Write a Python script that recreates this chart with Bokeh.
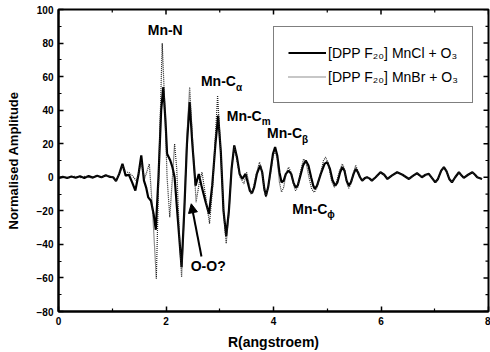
import math
from bokeh.plotting import figure
from bokeh.models import (FixedTicker, Label, Arrow, NormalHead, Range1d, Legend, LegendItem)
from bokeh.embed import file_html
from bokeh.resources import INLINE

# ---- data ----
r_mncl = [0.00, 0.08, 0.16, 0.24, 0.32, 0.40, 0.48, 0.56, 0.64, 0.72, 0.80, 0.88, 0.96, 1.02,
          1.07, 1.13, 1.19, 1.25, 1.31, 1.37, 1.43, 1.49, 1.54, 1.59, 1.63, 1.67, 1.72, 1.77,
          1.81, 1.86, 1.91, 1.95, 1.99, 2.02, 2.08, 2.12, 2.16, 2.22, 2.29, 2.34, 2.39, 2.44,
          2.49, 2.55, 2.61, 2.66, 2.74, 2.80, 2.86, 2.92, 2.97, 3.02, 3.07, 3.12, 3.17, 3.22,
          3.27, 3.32, 3.37, 3.42, 3.45, 3.48, 3.52, 3.56, 3.60, 3.64, 3.69, 3.75, 3.79, 3.83,
          3.86, 3.90, 3.95, 3.99, 4.03, 4.07, 4.11, 4.15, 4.19, 4.23, 4.28, 4.33, 4.37, 4.41,
          4.45, 4.50, 4.55, 4.60, 4.65, 4.70, 4.74, 4.77, 4.81, 4.88, 4.95, 5.00, 5.05, 5.10,
          5.15, 5.19, 5.24, 5.28, 5.32, 5.36, 5.40, 5.44, 5.49, 5.53, 5.57, 5.61, 5.65, 5.70,
          5.74, 5.79, 5.83, 5.90, 5.99, 6.06, 6.12, 6.20, 6.30, 6.40, 6.52, 6.60, 6.67, 6.72,
          6.76, 6.83, 6.89, 6.95, 7.01, 7.06, 7.12, 7.17, 7.22, 7.27, 7.32, 7.38, 7.45, 7.50,
          7.54, 7.62, 7.70, 7.75, 7.79, 7.88]
amp_mncl = [-0.5, 0.3, -0.4, 0.5, -0.3, 0.6, -0.4, 0.7, -0.2, 0.9, 0.0, 1.2, 0.2, 0.0,
            -2.3, 2.0, 8.0, 1.0, 1.5, -3.0, -7.9, 2.0, 13.0, -2.0, -6.0, -12.0, -14.0, -22.0,
            -31.3, 0.0, 40.0, 53.7, 33.8, 14.0, 10.0, 6.0, 0.0, -25.0, -53.6, -20.0, 20.0, 44.8,
            20.0, -5.0, 2.0, -5.0, -15.0, -21.8, -5.0, 20.0, 36.8, 15.0, -20.0, -35.0, -20.0, 5.0,
            19.0, 12.0, 2.0, -1.0, 0.5, 2.0, -3.0, -8.0, -9.5, -6.0, 2.0, 7.0, 3.0, -7.0,
            -11.0, -6.0, 5.0, 14.0, 18.0, 13.0, 3.0, -3.0, -2.0, 2.0, 4.0, 2.0, -3.0, -6.0,
            -5.0, 1.0, 7.0, 10.0, 7.0, 0.0, -5.0, -7.0, -5.0, 2.0, 8.0, 9.0, 5.0, -2.0,
            -5.0, -3.0, 3.0, 6.0, 4.0, -2.0, -5.0, -3.0, 2.0, 5.0, 3.0, 0.0, -2.0, -0.5,
            0.0, -0.8, -2.0, 0.0, 3.0, 1.5, -1.0, 1.0, 3.0, 1.5, -1.0, 1.0, 2.4, 1.2,
            0.0, 1.5, 2.0, -0.5, -3.0, -1.0, 4.0, 6.0, 3.5, -1.0, -3.0, 0.0, 3.0, 1.0,
            -0.3, 1.5, 3.0, 1.5, 0.0, -1.0]

r_mnbr = [0.00, 0.10, 0.20, 0.30, 0.40, 0.50, 0.60, 0.70, 0.80, 0.90, 1.00,
          1.07, 1.13, 1.19, 1.25, 1.31, 1.37, 1.45, 1.54, 1.60, 1.69, 1.75, 1.82, 1.88, 1.93,
          1.98, 2.02, 2.07, 2.12, 2.16, 2.20, 2.25, 2.29, 2.34, 2.39, 2.44, 2.49, 2.56, 2.62,
          2.67, 2.74, 2.81, 2.87, 2.92, 2.96, 3.01, 3.07, 3.12, 3.17, 3.22, 3.27, 3.32, 3.38,
          3.45, 3.50, 3.54, 3.58, 3.62, 3.68, 3.74, 3.79, 3.83, 3.86, 3.90, 3.95, 3.99, 4.03,
          4.07, 4.11, 4.15, 4.19, 4.23, 4.28, 4.33, 4.37, 4.41, 4.45, 4.50, 4.56, 4.61, 4.66,
          4.71, 4.76, 4.81, 4.88, 4.93, 4.97, 5.02, 5.08, 5.13, 5.17, 5.23, 5.28, 5.32, 5.36,
          5.40, 5.44, 5.49, 5.53, 5.57, 5.61, 5.65, 5.70, 5.74, 5.79, 5.83, 5.90, 5.99, 6.06,
          6.12, 6.20, 6.30, 6.40, 6.52, 6.60, 6.67, 6.72, 6.76, 6.83, 6.89, 6.95, 7.01, 7.06,
          7.12, 7.17, 7.22, 7.27, 7.32, 7.38, 7.45, 7.50, 7.54, 7.62, 7.70, 7.75, 7.79, 7.88]
amp_mnbr = [0.0, 0.4, -0.3, 0.5, -0.2, 0.6, -0.3, 0.8, 0.0, 1.0, 0.2,
            -2.0, 2.0, 7.0, 3.0, 3.0, 1.0, -2.0, 9.0, -1.0, 8.0, -20.0, -60.5, 20.0, 79.9,
            40.0, 0.0, -23.8, 0.0, 20.0, 5.0, -35.0, -59.5, -20.0, 25.0, 53.7, 25.0, -14.8, -3.0,
            3.0, -12.0, -27.7, -5.0, 25.0, 48.7, 20.0, -20.0, -39.5, -22.0, 5.0, 19.0, 10.0, 0.0,
            -4.0, 3.0, -3.0, -10.0, -7.0, 2.0, 9.0, 3.0, -8.0, -12.0, -6.0, 3.0, 12.0, 16.0,
            11.0, -3.0, -8.8, -6.0, 2.0, 6.0, 3.0, -4.0, -8.0, -6.0, 3.0, 11.0, 8.0, 0.0,
            -7.0, -9.0, -6.0, 3.0, 10.0, 12.0, 8.0, -2.0, -6.0, -3.0, 4.0, 8.0, 5.0, -3.0,
            -6.5, -4.0, 3.0, 7.0, 4.0, 0.0, -2.0, -0.5, 0.0, -0.8, -2.0, 0.0, 3.0, 1.5,
            -1.0, 1.0, 3.0, 1.5, -1.0, 1.0, 2.5, 1.2, 0.0, 1.5, 2.0, -0.5, -3.0, -1.0,
            4.0, 6.0, 3.5, -1.0, -3.0, 0.0, 3.0, 1.0, 0.0, 1.5, 3.0, 1.5, 0.0, -1.0]

x_major = [0, 2, 4, 6, 8]
x_minor = [1, 3, 5, 7]
y_major = [-80, -60, -40, -20, 0, 20, 40, 60, 80, 100]
y_minor = [-70, -50, -30, -10, 10, 30, 50, 70, 90]
X_MIN, X_MAX = 0, 8
Y_MIN, Y_MAX = -80, 100

series_labels = ["[DPP F\u2082\u2080] MnCl + O\u2083", "[DPP F\u2082\u2080] MnBr + O\u2083"]

FONT = "Liberation Sans"

p = figure(width=490, height=352, x_range=Range1d(X_MIN, X_MAX), y_range=Range1d(Y_MIN, Y_MAX),
           output_backend="svg", toolbar_location=None,
           min_border_left=58, min_border_right=2, min_border_top=9, min_border_bottom=40,
           x_axis_label="R(angstroem)", y_axis_label="Normalised Amplitude")
p.grid.visible = False
p.outline_line_color = "black"
p.outline_line_width = 2
p.background_fill_color = "white"
p.border_fill_color = "white"

r1 = p.line(r_mncl, amp_mncl, line_color="black", line_width=2.2)
r2 = p.line(r_mnbr, amp_mnbr, line_color="#222222", line_width=1.2, line_dash="1 1")


def style_axis(ax, ticks, minor):
    ax.ticker = FixedTicker(ticks=ticks, minor_ticks=minor)
    ax.axis_line_width = 2
    ax.axis_line_color = "black"
    ax.major_tick_in = 5
    ax.major_tick_out = 0
    ax.minor_tick_in = 3
    ax.minor_tick_out = 0
    ax.major_tick_line_width = 1.5
    ax.minor_tick_line_width = 1.2
    ax.major_label_text_font = FONT
    ax.major_label_text_font_size = "10px"
    ax.major_label_text_font_style = "bold"
    ax.major_label_text_color = "black"
    ax.major_label_standoff = 5
    ax.axis_label_text_font = FONT
    ax.axis_label_text_font_style = "bold"
    ax.axis_label_text_color = "black"


style_axis(p.xaxis[0], x_major, x_minor)
style_axis(p.yaxis[0], y_major, y_minor)
p.xaxis[0].axis_label_text_font_size = "14px"
p.xaxis[0].axis_label_standoff = 6
p.yaxis[0].axis_label_text_font_size = "13px"
p.yaxis[0].axis_label_standoff = 13

# mirrored inward ticks on the top and right frame edges
p.ray(x=x_major, y=[Y_MAX] * len(x_major), length=5, length_units="screen",
      angle=-math.pi / 2, line_color="black", line_width=1.5)
p.ray(x=x_minor, y=[Y_MAX] * len(x_minor), length=3, length_units="screen",
      angle=-math.pi / 2, line_color="black", line_width=1.2)
p.ray(x=[X_MAX] * len(y_major), y=y_major, length=5, length_units="screen",
      angle=math.pi, line_color="black", line_width=1.5)
p.ray(x=[X_MAX] * len(y_minor), y=y_minor, length=3, length_units="screen",
      angle=math.pi, line_color="black", line_width=1.2)

legend = Legend(items=[LegendItem(label=series_labels[0], renderers=[r1]),
                       LegendItem(label=series_labels[1], renderers=[r2])],
                location=(215, 208))
legend.label_text_font = FONT
legend.label_text_font_size = "14px"
legend.label_text_color = "black"
legend.padding = 14
legend.spacing = 1
legend.label_height = 23
legend.glyph_height = 23
legend.glyph_width = 38
legend.label_standoff = 2
legend.margin = 0
legend.border_line_color = "black"
legend.border_line_width = 1.5
legend.background_fill_alpha = 1
p.add_layout(legend, "center")


def note(x, y, text, sub=None, sub_dx=35):
    p.add_layout(Label(x=x, y=y, text=text, text_font=FONT, text_font_size="14px",
                       text_font_style="bold", text_baseline="middle", text_align="left",
                       text_color="black"))
    if sub:
        p.add_layout(Label(x=x, y=y, text=sub, text_font=FONT, text_font_size="10px",
                           text_font_style="bold", text_baseline="middle", text_align="left",
                           x_offset=sub_dx, y_offset=-6, text_color="black"))


note(1.66, 87.5, "Mn-N")
note(2.65, 57.1, "Mn-C", "\u03b1")
note(3.13, 36.8, "Mn-C", "m")
note(3.88, 26.1, "Mn-C", "\u03b2")
note(4.35, -18.8, "Mn-C", "\u03d5")
note(2.46, -52.6, "O-O?")

p.add_layout(Arrow(x_start=2.66, y_start=-47.2, x_end=2.47, y_end=-15.8,
                   line_width=2, line_color="black",
                   end=NormalHead(size=9, fill_color="black", line_color="black")))

open("out.html", "w").write(file_html(p, INLINE))
